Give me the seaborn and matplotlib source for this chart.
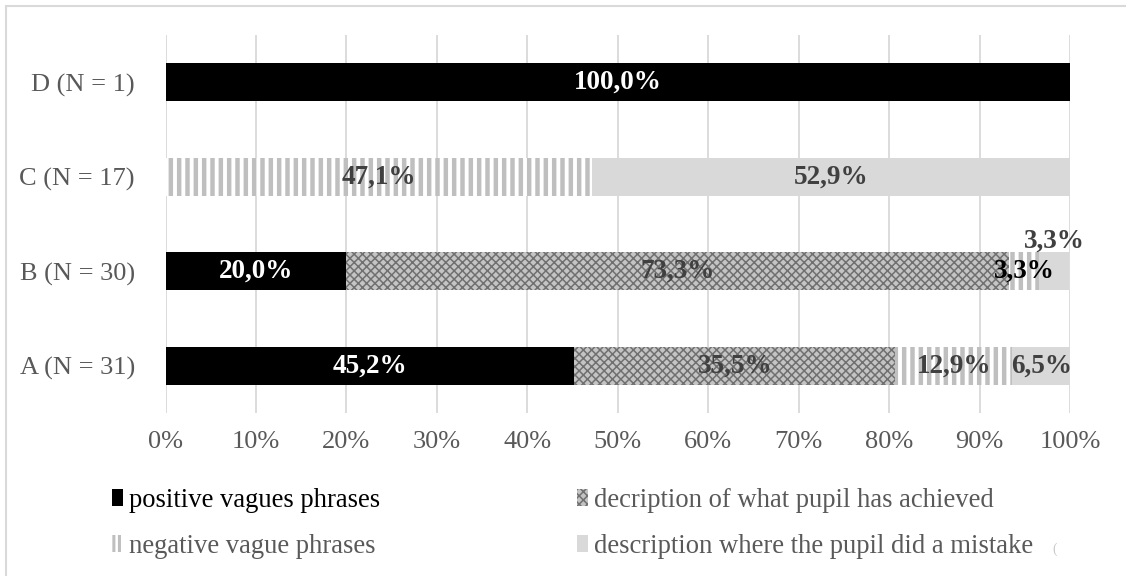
import matplotlib
matplotlib.use("Agg")
import matplotlib.pyplot as plt
import numpy as np
import pandas as pd
import seaborn as sns
from matplotlib.patches import Patch, Rectangle

# ---- data -------------------------------------------------------------
groups = ["D (N = 1)", "C (N = 17)", "B (N = 30)", "A (N = 31)"]
series_names = [
    "positive vagues phrases",
    "decription of what pupil has achieved",
    "negative vague phrases",
    "description where the pupil did a mistake",
]
positive = [100.0, 0.0, 20.0, 45.2]
achieved = [0.0, 0.0, 73.3, 35.5]
negative = [0.0, 47.1, 3.3, 12.9]
mistake = [0.0, 52.9, 3.3, 6.5]
x_ticks = [0, 10, 20, 30, 40, 50, 60, 70, 80, 90, 100]
x_tick_labels = [f"{t}%" for t in x_ticks]

series_values = [positive, achieved, negative, mistake]

# ---- styling ----------------------------------------------------------
sns.set_theme(style="white")
SERIF = ["Liberation Serif", "DejaVu Serif"]
plt.rcParams["font.family"] = SERIF
FS = 19
LEGEND_FS = 19.2
LABEL_FS = 19.5
TICK_GREY = "#595959"
GRID_GREY = "#d9d9d9"

styles = [
    dict(face="#000000", hatch=None, edge="#000000", hlw=1.0, text="white"),
    dict(face="#c4c4c4", hatch="xxxx", edge="#707070", hlw=1.1, text="#404040"),
    dict(face="#ffffff", hatch="||", edge="#bfbfbf", hlw=3.2, text="#404040"),
    dict(face="#d9d9d9", hatch=None, edge="#d9d9d9", hlw=1.0, text="#404040"),
]
legend_text_colors = ["#000000", TICK_GREY, TICK_GREY, TICK_GREY]

# per-label adjustments: (series index, group) -> (dy in category units, colour)
label_overrides = {
    (2, "B (N = 30)"): (0.0, "#000000"),
    (3, "B (N = 30)"): (-0.32, "#404040"),
}

fig = plt.figure(figsize=(11.26, 5.76), dpi=100)
ax = fig.add_axes([165.5 / 1126, 1 - 413 / 576, (1070 - 165.5) / 1126, 378 / 576])

# light frame around the whole chart area
fig.patches.append(Rectangle((6 / 1126, -0.2), 1.2, 1.2 - 6 / 576,
                             transform=fig.transFigure, fill=False,
                             edgecolor="#d9d9d9", linewidth=1.5, zorder=0))

df = pd.DataFrame({"group": groups})
cum = np.cumsum(np.array(series_values), axis=0)

# stacked bars drawn as overlapping cumulative bars, widest first
for i in reversed(range(len(series_values))):
    st = styles[i]
    df["cum"] = cum[i]
    n_before = len(ax.patches)
    sns.barplot(data=df, x="cum", y="group", order=groups, orient="h",
                color=st["face"], saturation=1, width=0.4, errorbar=None,
                hatch=st["hatch"], edgecolor=st["edge"], linewidth=0,
                ax=ax, zorder=2)
    for p in ax.patches[n_before:]:
        p.set_facecolor(st["face"])
        p.set_edgecolor(st["edge"])
        if hasattr(p, "set_hatch_linewidth"):
            p.set_hatch_linewidth(st["hlw"])

# value labels at each segment's centre
for i, vals in enumerate(series_values):
    starts = cum[i] - np.array(vals)
    for j, (g, v) in enumerate(zip(groups, vals)):
        if v <= 0:
            continue
        dy, color = label_overrides.get((i, g), (0.0, styles[i]["text"]))
        ax.text(starts[j] + v / 2, j + dy, f"{v:.1f}".replace(".", ",") + "%",
                ha="center", va="center", fontsize=LABEL_FS, fontweight="bold",
                family=SERIF, color=color, zorder=5)

ax.set_xlim(0, 100)
ax.set_ylim(3.5, -0.5)
ax.set_xticks(x_ticks)
ax.set_xticklabels(x_tick_labels, family=SERIF)
ax.set_yticks(range(len(groups)))
ax.set_yticklabels(groups, family=SERIF)
ax.set_xlabel("")
ax.set_ylabel("")
ax.tick_params(axis="x", length=0, pad=13, labelsize=FS, labelcolor=TICK_GREY)
ax.tick_params(axis="y", length=0, pad=22, labelsize=FS, labelcolor=TICK_GREY)
ax.grid(axis="x", color=GRID_GREY, linewidth=1.3, zorder=0)
ax.grid(axis="y", visible=False)
ax.set_axisbelow(True)
for s in ax.spines.values():
    s.set_visible(False)

# legend: two columns of two entries each
handles = []
for st, name in zip(styles, series_names):
    h = Patch(facecolor=st["face"], edgecolor=st["edge"], hatch=st["hatch"],
              linewidth=0, label=name)
    handles.append(h)

def add_legend(idx, x_px):
    leg = fig.legend(handles=[handles[k] for k in idx],
                     loc="upper left", bbox_to_anchor=(x_px / 1126, 1 - 488 / 576),
                     frameon=False, prop=dict(family=SERIF, size=LEGEND_FS),
                     handlelength=0.42, handleheight=0.6, handletextpad=0.2,
                     labelspacing=0.78, borderpad=0, borderaxespad=0)
    for k, t in zip(idx, leg.get_texts()):
        t.set_color(legend_text_colors[k])
    for k, lh in zip(idx, leg.legend_handles):
        lh.set_edgecolor(styles[k]["edge"])
        if hasattr(lh, "set_hatch_linewidth"):
            lh.set_hatch_linewidth(2.2 if k == 2 else styles[k]["hlw"])
        if k == 2:
            lh.set_hatch("|||")
    return leg

add_legend([0, 2], 112)
add_legend([1, 3], 577)

# small stray stroke at the right end of the legend
fig.text(1055 / 1126, 1 - 549 / 576, "(", fontsize=10, color="#c8c8c8",
         ha="center", va="center")

fig.savefig("out.png", dpi=100)
